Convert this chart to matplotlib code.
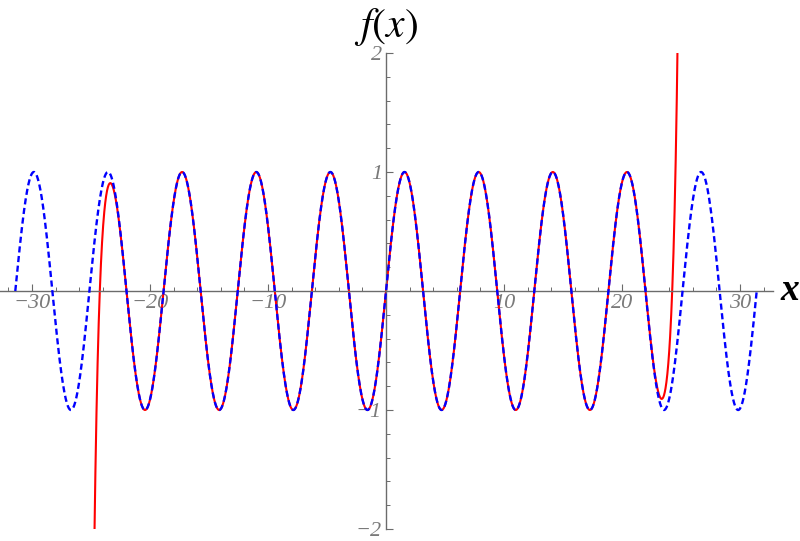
import matplotlib
matplotlib.use('Agg')
import matplotlib.pyplot as plt
from matplotlib.patches import Rectangle
from math import factorial
import numpy as np

# sin(x) and its Maclaurin polynomial up to x^61, drawn on [-10pi, 10pi]
x_start = -10 * np.pi
x_end = 10 * np.pi
n_terms = 31          # terms x^1 ... x^61
x_ticks = [-30, -20, -10, 10, 20, 30]
x_minor = [v for v in range(-32, 33, 2) if v % 10 != 0]
y_ticks = [-2, -1, 1, 2]
y_minor = [round(v, 1) for v in np.arange(-2, 2.01, 0.2) if abs(v - round(v)) > 1e-6]
y_range = (-2, 2)

xs = np.linspace(x_start, x_end, 4000)
sin_vals = np.sin(xs)
taylor_vals = np.zeros_like(xs)
for k in range(n_terms):
    taylor_vals += (-1) ** k * xs ** (2 * k + 1) / factorial(2 * k + 1)

fig = plt.figure(figsize=(8, 5.41), dpi=100)
ax = fig.add_axes([0, 0, 1, 1])
ax.set_xlim(-386 / 11.8, (800 - 386) / 11.8)
ax.set_ylim((291 - 541) / 119.0, 291 / 119.0)

clip = Rectangle((-40, y_range[0]), 80, y_range[1] - y_range[0], transform=ax.transData)

red, = ax.plot(xs, taylor_vals, color='#ff0000', lw=1.5, zorder=2)
blue, = ax.plot(xs, sin_vals, color='#0000ff', lw=1.7, dashes=(2.6, 1.5), zorder=3)
red.set_clip_path(clip)
blue.set_clip_path(clip)

gray = '#6b6b6b'
for side in ['top', 'right']:
    ax.spines[side].set_visible(False)
ax.spines['left'].set_position(('data', 0))
ax.spines['bottom'].set_position(('data', 0))
ax.spines['left'].set_bounds(y_range[0], y_range[1])
ax.spines['bottom'].set_bounds(-32.7, 32.8)
for side in ['left', 'bottom']:
    ax.spines[side].set_color(gray)
    ax.spines[side].set_linewidth(1.0)

ax.set_xticks(x_ticks)
ax.set_xticks(x_minor, minor=True)
ax.set_yticks(y_ticks)
ax.set_yticks(y_minor, minor=True)
ax.set_xticklabels(['\u2212%d' % -v if v < 0 else str(v) for v in x_ticks])
ax.set_yticklabels(['\u2212%d' % -v if v < 0 else str(v) for v in y_ticks])
ax.tick_params(which='major', direction='in', length=5, width=0.8, color=gray,
               labelcolor='#7a7a7a', labelsize=16)
ax.tick_params(which='minor', direction='in', length=3, width=0.7, color=gray)
ax.tick_params(axis='x', which='major', pad=2)
ax.tick_params(axis='y', which='major', pad=3)
for lab in ax.get_xticklabels() + ax.get_yticklabels():
    lab.set_fontfamily('Liberation Serif')
    lab.set_fontstyle('italic')

ax.text(34.2, 0, 'x', fontsize=27, fontfamily='Liberation Serif', fontstyle='italic',
        fontweight='bold', ha='center', va='center')
ax.text(0, 2.22, '$f(x)$', fontsize=30, ha='center', va='center',
        math_fontfamily='stix')

fig.savefig('out.png', dpi=100)
